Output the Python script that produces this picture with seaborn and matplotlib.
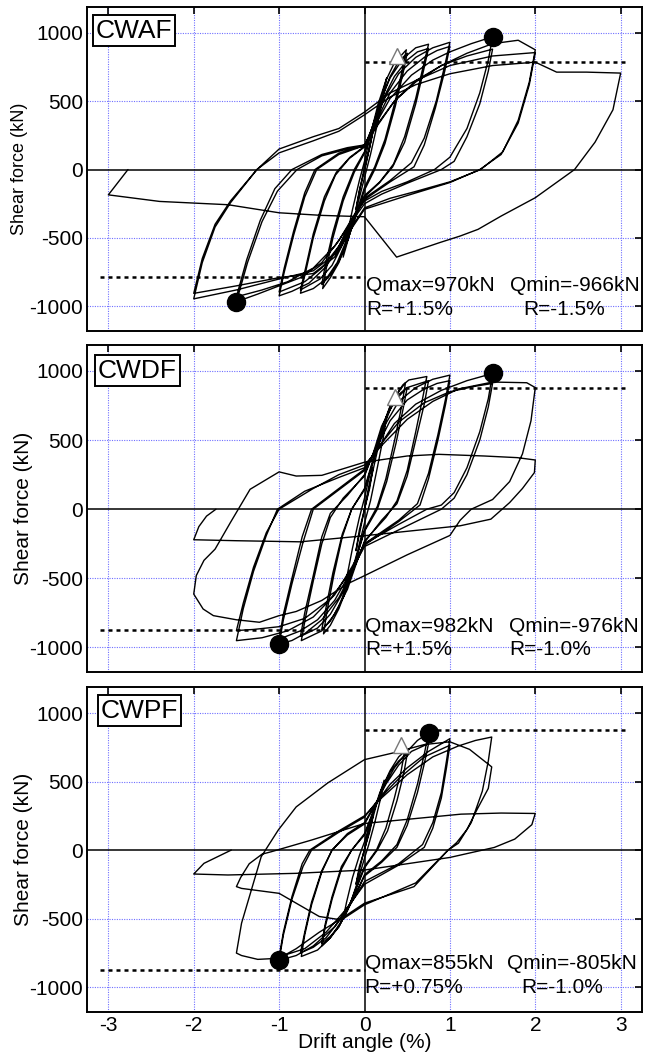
import matplotlib
matplotlib.use("Agg")
import matplotlib.pyplot as plt
import pandas as pd
import seaborn as sns

# ---------------- data ----------------
specimens = ["CWAF", "CWDF", "CWPF"]

cwaf_path = [
    (0, 0), (0.05, 140), (0.1, 290), (0.06, 160), (0.0, 20), (-0.05, -130), (-0.1, -290), (-0.06, -150), (0, -10),
    (0.06, 160), (0.13, 360), (0.2, 530), (0.26, 670), (0.22, 540), (0.15, 330), (0.07, 110), (0, -60),
    (-0.07, -230), (-0.15, -420), (-0.25, -640), (-0.21, -500), (-0.14, -290), (-0.06, -80), (0, 60),
    (0.08, 280), (0.16, 480), (0.25, 650), (0.35, 780), (0.49, 875), (0.44, 720), (0.36, 500), (0.24, 220),
    (0.12, 20), (0, -130), (-0.1, -330), (-0.2, -520), (-0.3, -680), (-0.4, -790), (-0.49, -870),
    (-0.45, -730), (-0.37, -500), (-0.25, -230), (-0.12, -20), (0, 120),
    (0.1, 320), (0.2, 520), (0.3, 680), (0.4, 790), (0.5, 850), (0.45, 700), (0.36, 460), (0.24, 190),
    (0.12, 0), (0, -150), (-0.1, -340), (-0.2, -520), (-0.3, -670), (-0.4, -770), (-0.5, -840),
    (-0.46, -700), (-0.37, -460), (-0.25, -200), (-0.12, 0), (0, 130),
    (0.1, 330), (0.2, 520), (0.3, 670), (0.45, 810), (0.6, 890), (0.75, 916), (0.69, 760), (0.6, 520),
    (0.47, 240), (0.34, 40), (0.18, -90), (0, -190), (-0.1, -330), (-0.2, -500), (-0.32, -680),
    (-0.45, -800), (-0.6, -870), (-0.75, -904), (-0.69, -750), (-0.6, -500), (-0.47, -230), (-0.34, -40),
    (-0.18, 80), (0, 165),
    (0.1, 320), (0.22, 520), (0.35, 680), (0.5, 800), (0.62, 860), (0.75, 885), (0.69, 720), (0.6, 480),
    (0.47, 200), (0.33, 20), (0.17, -100), (0, -200), (-0.12, -350), (-0.25, -540), (-0.38, -700),
    (-0.52, -800), (-0.75, -880), (-0.69, -720), (-0.6, -470), (-0.47, -200), (-0.33, -20), (-0.17, 90),
    (0, 170),
    (0.1, 320), (0.25, 540), (0.4, 700), (0.6, 820), (0.8, 890), (1.0, 930), (0.94, 760), (0.84, 500),
    (0.7, 230), (0.55, 50), (0.3, -80), (0, -210), (-0.12, -340), (-0.28, -540), (-0.45, -710),
    (-0.65, -830), (-0.85, -890), (-1.0, -923), (-0.94, -750), (-0.83, -480), (-0.7, -200), (-0.56, 0),
    (-0.3, 110), (0, 175),
    (0.12, 330), (0.3, 560), (0.5, 720), (0.7, 820), (0.85, 870), (1.0, 900), (0.94, 720), (0.83, 450),
    (0.7, 180), (0.58, 20), (0.3, -90), (0, -220), (-0.15, -370), (-0.3, -560), (-0.5, -720),
    (-0.7, -820), (-1.0, -895), (-0.94, -720), (-0.83, -450), (-0.7, -170), (-0.58, 0), (-0.3, 120),
    (0, 180),
    (0.12, 320), (0.3, 520), (0.55, 690), (0.8, 800), (1.0, 860), (1.25, 920), (1.5, 970), (1.45, 800),
    (1.35, 560), (1.2, 300), (1.0, 90), (0.82, 0), (0.5, -90), (0.2, -160), (0, -230), (-0.12, -330),
    (-0.3, -520), (-0.5, -680), (-0.75, -790), (-1.0, -850), (-1.25, -910), (-1.5, -966), (-1.37, -680),
    (-1.2, -380), (-1.02, -158), (-0.79, 0), (-0.5, 100), (-0.2, 150), (0, 170),
    (0.15, 320), (0.35, 500), (0.6, 650), (0.9, 760), (1.2, 830), (1.5, 880), (1.45, 720), (1.35, 480),
    (1.2, 240), (1.05, 60), (0.9, 0), (0.5, -100), (0.2, -180), (0, -250), (-0.15, -380), (-0.35, -560),
    (-0.6, -720), (-0.9, -820), (-1.2, -880), (-1.5, -930), (-1.38, -660), (-1.22, -370), (-1.05, -140),
    (-0.85, 0), (-0.5, 110), (-0.2, 160), (0, 180),
    (0.15, 330), (0.35, 500), (0.6, 640), (0.9, 760), (1.2, 850), (1.5, 920), (1.8, 945), (2.0, 875),
    (1.93, 640), (1.8, 360), (1.62, 130), (1.36, 0), (1.0, -90), (0.6, -160), (0.3, -210), (0, -280),
    (-0.15, -420), (-0.35, -620), (-0.6, -740), (-1.0, -800), (-1.5, -880), (-2.0, -945), (-1.9, -680),
    (-1.75, -420), (-1.57, -243), (-1.26, 0), (-1.0, 150), (-0.6, 240), (-0.3, 300), (0, 420),
    (0.3, 560), (0.6, 650), (1.0, 760), (1.5, 830), (2.0, 855), (1.93, 620), (1.8, 340), (1.6, 110),
    (1.35, 0), (1.0, -95), (0.5, -190), (0, -290), (-0.15, -430), (-0.35, -640), (-0.6, -760),
    (-1.0, -790), (-1.5, -850), (-2.0, -905), (-1.9, -650), (-1.75, -400), (-1.57, -230), (-1.26, 0),
    (-1.0, 122), (-0.6, 210), (-0.3, 280), (0, 400), (0.3, 530), (0.6, 620), (1.0, 700), (1.5, 760),
    (2.0, 785), (2.25, 712), (2.6, 712), (3.0, 705), (2.91, 437), (2.7, 200), (2.46, 0), (2.0, -206),
    (1.6, -340), (1.33, -437), (1.12, -486), (0.88, -534), (0.376, -640), (0, -345), (-0.5, -335),
    (-1.0, -316), (-1.6, -257), (-2.4, -233), (-3.0, -185), (-2.77, 0),
]

cwdf_path = [
    (0, 0), (0.05, 160), (0.1, 300), (0.06, 150), (0, 0), (-0.05, -150), (-0.1, -300), (-0.06, -150), (0, 0),
    (0.07, 200), (0.15, 420), (0.26, 674), (0.22, 520), (0.15, 300), (0.07, 60), (0, -100), (-0.08, -300),
    (-0.16, -480), (-0.25, -640), (-0.21, -500), (-0.14, -280), (-0.06, -60), (0, 80),
    (0.08, 300), (0.18, 540), (0.3, 740), (0.4, 850), (0.48, 915), (0.44, 760), (0.36, 520), (0.25, 220),
    (0.15, 20), (0, -150), (-0.1, -360), (-0.2, -560), (-0.3, -720), (-0.4, -840), (-0.48, -902),
    (-0.44, -740), (-0.36, -480), (-0.26, -200), (-0.15, 0), (0, 140),
    (0.1, 340), (0.2, 560), (0.3, 720), (0.4, 830), (0.5, 880), (0.45, 720), (0.37, 480), (0.26, 200),
    (0.15, 0), (0, -160), (-0.1, -360), (-0.2, -550), (-0.3, -700), (-0.4, -810), (-0.5, -870),
    (-0.45, -710), (-0.37, -460), (-0.26, -180), (-0.15, 0), (0, 150),
    (0.1, 360), (0.2, 580), (0.32, 780), (0.45, 900), (0.52, 935), (0.73, 960), (0.68, 800), (0.6, 560),
    (0.5, 280), (0.38, 60), (0.25, -60), (0, -230), (-0.1, -400), (-0.2, -580), (-0.35, -760),
    (-0.5, -880), (-0.74, -951), (-0.69, -780), (-0.6, -520), (-0.5, -250), (-0.4, -60), (-0.25, 80),
    (0, 240),
    (0.1, 400), (0.2, 600), (0.35, 780), (0.5, 880), (0.75, 930), (0.7, 760), (0.6, 500), (0.5, 240),
    (0.38, 40), (0.2, -80), (0, -240), (-0.12, -420), (-0.25, -600), (-0.4, -760), (-0.55, -860),
    (-0.75, -920), (-0.7, -750), (-0.6, -480), (-0.5, -200), (-0.4, -30), (-0.2, 100), (0, 250),
    (0.1, 400), (0.25, 620), (0.4, 780), (0.6, 880), (0.8, 940), (1.0, 970), (0.95, 800), (0.86, 540),
    (0.75, 260), (0.62, 40), (0.4, -80), (0, -250), (-0.12, -420), (-0.3, -640), (-0.5, -800),
    (-0.7, -900), (-0.85, -950), (-1.0, -976), (-0.95, -800), (-0.85, -540), (-0.72, -240), (-0.6, 0),
    (-0.3, 140), (0, 280),
    (0.12, 420), (0.3, 640), (0.5, 790), (0.7, 870), (0.85, 910), (1.0, 930), (0.95, 760), (0.86, 500),
    (0.75, 220), (0.65, 30), (0.4, -90), (0, -260), (-0.15, -440), (-0.35, -660), (-0.55, -800),
    (-0.75, -880), (-1.0, -940), (-0.95, -760), (-0.85, -500), (-0.73, -200), (-0.62, 0), (-0.3, 150),
    (0, 290),
    (0.15, 430), (0.35, 620), (0.6, 760), (0.9, 860), (1.2, 930), (1.5, 982), (1.45, 800), (1.35, 560),
    (1.2, 300), (1.05, 120), (0.9, 30), (0.73, 0), (0.4, -110), (0, -250), (-0.15, -420), (-0.35, -620),
    (-0.6, -780), (-0.9, -880), (-1.2, -930), (-1.5, -951), (-1.42, -720), (-1.3, -450), (-1.15, -190),
    (-1.02, 0), (-0.7, 130), (-0.3, 230), (0, 300),
    (0.15, 440), (0.4, 630), (0.7, 770), (1.0, 850), (1.3, 890), (1.5, 910), (1.45, 740), (1.35, 500),
    (1.2, 250), (1.05, 80), (0.9, 0), (0.5, -120), (0, -270), (-0.15, -440), (-0.4, -650), (-0.7, -790),
    (-1.0, -850), (-1.3, -870), (-1.5, -878), (-1.42, -680), (-1.3, -420), (-1.15, -170), (-1.0, 0),
    (-0.6, 150), (-0.3, 250), (0, 320),
    (0.2, 460), (0.5, 650), (0.8, 780), (1.1, 870), (1.5, 920), (1.9, 915), (2.0, 880), (1.95, 640),
    (1.85, 400), (1.7, 200), (1.5, 70), (1.25, 0), (1.12, -80), (1.0, -190), (0.5, -330), (0, -481),
    (-0.2, -540), (-0.5, -660), (-0.8, -740), (-1.0, -770), (-1.23, -818), (-1.5, -800), (-1.77, -770),
    (-1.89, -722), (-2.0, -614), (-1.97, -480), (-1.88, -370), (-1.75, -289), (-1.57, -96),
    (-1.34, 144), (-1.0, 270), (-0.8, 240), (-0.5, 245), (0, 340), (0.5, 385), (0.87, 397), (1.4, 385),
    (1.79, 373), (2.0, 356), (1.99, 265), (1.85, 150), (1.7, 48), (1.48, -72), (1.12, -120),
    (0.5, -160), (0, -192), (-0.75, -236), (-1.5, -228), (-2.0, -221), (-1.94, -126), (-1.85, -50),
    (-1.74, 0),
]

cwpf_path = [
    (0, 0), (0.04, 120), (0.1, 250), (0.06, 130), (0, 10), (-0.05, -120), (-0.1, -250), (-0.06, -120), (0, 0),
    (0.06, 150), (0.14, 330), (0.23, 510), (0.19, 380), (0.12, 200), (0.05, 40), (0, -60), (-0.08, -230),
    (-0.16, -380), (-0.25, -500), (-0.21, -380), (-0.14, -200), (-0.06, -40), (0, 60),
    (0.08, 230), (0.18, 420), (0.3, 580), (0.4, 680), (0.47, 720), (0.43, 580), (0.35, 380), (0.25, 160),
    (0.14, 0), (0, -120), (-0.1, -280), (-0.2, -440), (-0.3, -560), (-0.4, -640), (-0.5, -700),
    (-0.46, -560), (-0.38, -360), (-0.27, -140), (-0.15, 0), (0, 110),
    (0.1, 270), (0.2, 440), (0.3, 570), (0.4, 650), (0.5, 700), (0.46, 560), (0.38, 360), (0.27, 140),
    (0.15, 0), (0, -130), (-0.1, -290), (-0.2, -440), (-0.3, -560), (-0.4, -630), (-0.5, -680),
    (-0.46, -540), (-0.38, -340), (-0.27, -120), (-0.15, 0), (0, 120),
    (0.1, 280), (0.22, 460), (0.35, 600), (0.5, 720), (0.62, 800), (0.75, 855), (0.7, 700), (0.62, 480),
    (0.5, 220), (0.38, 40), (0.2, -80), (0, -180), (-0.1, -320), (-0.25, -500), (-0.4, -640),
    (-0.55, -730), (-0.74, -777), (-0.7, -620), (-0.62, -400), (-0.5, -160), (-0.38, 0), (-0.2, 110),
    (0, 190),
    (0.1, 300), (0.25, 480), (0.4, 620), (0.55, 720), (0.75, 777), (0.7, 630), (0.62, 420), (0.5, 180),
    (0.38, 20), (0.2, -90), (0, -190), (-0.12, -340), (-0.3, -520), (-0.45, -640), (-0.6, -710),
    (-0.75, -750), (-0.7, -600), (-0.62, -380), (-0.5, -150), (-0.38, 0), (-0.2, 120), (0, 200),
    (0.12, 330), (0.3, 480), (0.5, 600), (0.75, 720), (1.0, 813), (0.96, 650), (0.9, 420), (0.8, 200),
    (0.68, 40), (0.4, -100), (0, -230), (-0.15, -380), (-0.35, -560), (-0.6, -700), (-0.8, -770),
    (-1.0, -805), (-0.95, -620), (-0.85, -360), (-0.72, -120), (-0.62, 0), (-0.3, 130), (0, 240),
    (0.15, 360), (0.4, 520), (0.7, 680), (1.0, 765), (0.96, 600), (0.9, 380), (0.8, 160), (0.7, 20),
    (0.4, -110), (0, -250), (-0.2, -420), (-0.45, -600), (-0.7, -720), (-1.0, -780), (-0.95, -600),
    (-0.85, -340), (-0.73, -100), (-0.64, 0), (-0.3, 140), (0, 250),
    (0.2, 380), (0.5, 550), (0.8, 680), (1.1, 760), (1.3, 800), (1.49, 825), (1.45, 650), (1.38, 430),
    (1.25, 200), (1.1, 50), (0.98, 0), (0.58, -267), (0, -388), (-0.27, -500), (-0.53, -600),
    (-0.8, -720), (-1.0, -790), (-1.25, -798), (-1.44, -770), (-1.5, -752),
    (-1.44, -534), (-1.21, -49), (-1.01, 146), (-0.8, 315), (-0.43, 490), (0, 660), (0.35, 711),
    (0.7, 770), (1.0, 790), (1.23, 735), (1.49, 607), (1.45, 450), (1.32, 298), (1.2, 150), (1.08, 55),
    (0.98, 0), (0.6, -240), (0, -400), (-0.27, -510), (-0.53, -485), (-1.0, -316), (-1.44, -280),
    (-1.5, -267), (-1.45, -200), (-1.35, -100), (-1.2, -30), (-1.09, -12), (-0.62, 73), (0, 194),
    (1.13, 262), (1.6, 270), (2.0, 267), (1.96, 185), (1.76, 80), (1.52, 19), (1.0, -54), (0.5, -100),
    (0, -146), (-0.8, -170), (-1.6, -182), (-2.0, -175), (-1.88, -97), (-1.56, 0),
]

paths = {"CWAF": cwaf_path, "CWDF": cwdf_path, "CWPF": cwpf_path}

# peak points (black circles): (R at Qmax, Qmax), (R at Qmin, Qmin)
peak_r = {"CWAF": [1.5, -1.5], "CWDF": [1.5, -1.0], "CWPF": [0.75, -1.0]}
peak_q = {"CWAF": [970, -966], "CWDF": [982, -976], "CWPF": [855, -805]}
# first-yield points (open triangles)
yield_r = {"CWAF": 0.384, "CWDF": 0.36, "CWPF": 0.43}
yield_q = {"CWAF": 832, "CWDF": 812, "CWPF": 767}
# calculated strength (dashed lines)
calc_q = {"CWAF": 785, "CWDF": 875, "CWPF": 877}

q_labels = {
    "CWAF": ["Qmax=970kN", "Qmin=-966kN", "R=+1.5%", "R=-1.5%"],
    "CWDF": ["Qmax=982kN", "Qmin=-976kN", "R=+1.5%", "R=-1.0%"],
    "CWPF": ["Qmax=855kN", "Qmin=-805kN", "R=+0.75%", "R=-1.0%"],
}

x_ticks = [-3, -2, -1, 0, 1, 2, 3]
y_ticks = [-1000, -500, 0, 500, 1000]

# ---------------- layout / style ----------------
sns.set_theme(style="white")
plt.rcParams["font.family"] = ["Liberation Sans", "DejaVu Sans"]
plt.rcParams["axes.linewidth"] = 1.4
plt.rcParams["axes.unicode_minus"] = False
plt.rcParams["text.color"] = "black"
plt.rcParams["axes.labelcolor"] = "black"
plt.rcParams["xtick.color"] = "black"
plt.rcParams["ytick.color"] = "black"

W, H = 650, 1057
fig = plt.figure(figsize=(W / 100, H / 100), dpi=100)

ax_rect = {
    "CWAF": [87 / W, (H - 331) / H, 555 / W, 324 / H],
    "CWDF": [87 / W, (H - 672.3) / H, 555 / W, 327.3 / H],
    "CWPF": [87 / W, (H - 1011.7) / H, 555 / W, 324.4 / H],
}
box_xy = {"CWAF": (0.0847, 0.927), "CWDF": (0.091, 0.922), "CWPF": (0.0946, 0.928)}
qmin_x = {"CWAF": 1.70, "CWDF": 1.69, "CWPF": 1.67}
rmin_x = {"CWAF": 1.86, "CWDF": 1.69, "CWPF": 1.83}
qmax_x = {"CWAF": 0.02, "CWDF": 0.01, "CWPF": 0.0}
text_y = {"CWAF": (-889, -1064), "CWDF": (-886, -1054), "CWPF": (-865, -1047)}
ylab = {"CWAF": (13, -0.106), "CWDF": (15, -0.097), "CWPF": (15, -0.097)}

grid_color = "#7070ff"

for i, name in enumerate(specimens):
    ax = fig.add_axes(ax_rect[name])
    ax.set_xlim(-3.25, 3.25)
    ax.set_ylim(-1180, 1188)

    # grid (blue dotted) and zero axes
    for xv in x_ticks:
        if xv != 0:
            ax.axvline(xv, color=grid_color, lw=0.8, ls=(0, (1, 1.2)), zorder=0)
    for yv in y_ticks:
        if yv != 0:
            ax.axhline(yv, color=grid_color, lw=0.8, ls=(0, (1, 1.2)), zorder=0)
    ax.axvline(0, color="black", lw=1.1, zorder=1)
    ax.axhline(0, color="black", lw=1.1, zorder=1)

    # hysteresis loop
    df = pd.DataFrame(paths[name], columns=["R", "Q"])
    sns.lineplot(data=df, x="R", y="Q", sort=False, estimator=None, color="black",
                 lw=1.0, ax=ax, zorder=3)

    # calculated strength dashed lines
    cq = calc_q[name]
    ax.plot([0, 3.1], [cq, cq], color="black", lw=1.8, ls=(0, (1.6, 1.6)), zorder=2)
    ax.plot([-3.1, 0], [-cq, -cq], color="black", lw=1.8, ls=(0, (1.6, 1.6)), zorder=2)

    # markers
    ax.plot(peak_r[name], peak_q[name], "o", ms=13, color="black", zorder=5)
    ax.plot([yield_r[name]], [yield_q[name]], "^", ms=12, mfc="white", mec="#777777",
            mew=1.0, zorder=5)

    # annotations
    lab = q_labels[name]
    ty1, ty2 = text_y[name]
    ax.text(qmax_x[name], ty1, lab[0], fontsize=15, va="baseline", ha="left", zorder=6)
    ax.text(qmin_x[name], ty1, lab[1], fontsize=15, va="baseline", ha="left", zorder=6)
    ax.text(qmax_x[name], ty2, lab[2], fontsize=15, va="baseline", ha="left", zorder=6)
    ax.text(rmin_x[name], ty2, lab[3], fontsize=15, va="baseline", ha="left", zorder=6)

    bx, by = box_xy[name]
    ax.text(bx, by, name, transform=ax.transAxes, fontsize=19, ha="center", va="center",
            zorder=7, bbox=dict(boxstyle="square,pad=0.12", fc="white", ec="black", lw=1.4))

    # ticks
    ax.set_xticks(x_ticks)
    ax.set_yticks(y_ticks)
    ax.tick_params(direction="in", length=5, width=1.2, top=True, right=True,
                   labelsize=15, pad=3, colors="black")
    fs, lx = ylab[name]
    ax.set_ylabel("Shear force (kN)", fontsize=fs)
    ax.yaxis.set_label_coords(lx, 0.5)
    if name != "CWPF":
        ax.tick_params(labelbottom=False)
        ax.set_xlabel("")
    else:
        ax.set_xlabel("Drift angle (%)", fontsize=15, labelpad=-1)
    for sp in ax.spines.values():
        sp.set_color("black")
        sp.set_linewidth(1.4)

fig.savefig("out.png", dpi=100)
